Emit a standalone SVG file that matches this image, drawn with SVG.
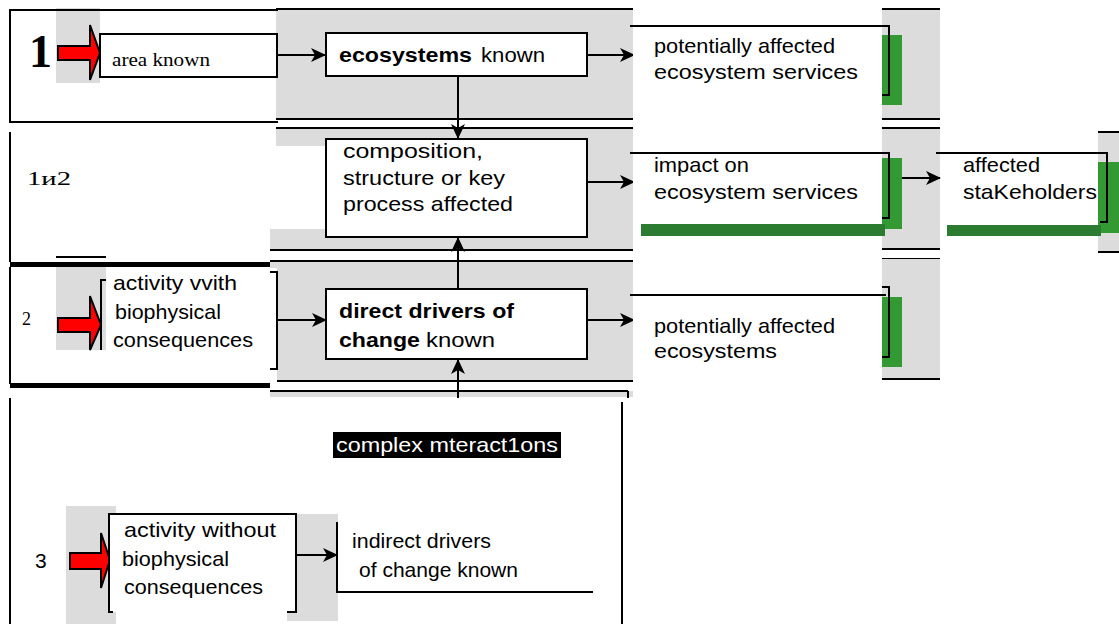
<svg xmlns="http://www.w3.org/2000/svg" width="1119" height="624" viewBox="0 0 1119 624">
<style>
.g{fill:#dcdcdc}
.ln{stroke:#000;stroke-width:2;fill:none}
.tk{stroke:#000;stroke-width:5;fill:none}
.wb{fill:#fff;stroke:#000;stroke-width:2}
.gv{fill:#339933}
.gh{fill:#2b7b30}
.t{font-family:"Liberation Sans",Arial,sans-serif;font-size:21px;fill:#000}
.b{font-weight:bold}
.s{font-family:"Liberation Serif","Times New Roman",serif;fill:#000}
.red{fill:#ff0000;stroke:#000;stroke-width:2;stroke-linejoin:miter}
</style>
<defs>
<marker id="ah" markerUnits="userSpaceOnUse" markerWidth="16" markerHeight="14" refX="14" refY="7" orient="auto">
<path d="M0,0 L15,7 L0,14 L4,7 z" fill="#000"/>
</marker>
</defs>
<rect width="1119" height="624" fill="#fff"/>

<!-- background bands -->
<g id="bands">
<rect class="g" x="276" y="9" width="357" height="110"/>
<rect class="g" x="882" y="9" width="58" height="110"/>
<line class="ln" x1="276" y1="9" x2="633" y2="9"/>
<line class="ln" x1="882" y1="9" x2="940" y2="9"/>
<line class="ln" x1="276" y1="119" x2="633" y2="119"/>
<line class="ln" x1="882" y1="119" x2="940" y2="119"/>
<line class="ln" x1="276" y1="128" x2="633" y2="128"/>
<line class="ln" x1="882" y1="128" x2="940" y2="128"/>

<rect class="g" x="276" y="129" width="357" height="121"/>
<rect x="270" y="146" width="56" height="83" fill="#fff"/>
<rect class="g" x="270" y="229" width="10" height="21"/>
<rect class="g" x="882" y="129" width="58" height="120"/>
<line class="ln" x1="270" y1="250" x2="633" y2="250"/>
<line class="ln" x1="882" y1="249" x2="940" y2="249"/>
<line class="ln" x1="882" y1="259" x2="940" y2="259"/>

<rect class="g" x="1098" y="132" width="21" height="120"/>
<line class="ln" x1="1098" y1="132" x2="1119" y2="132"/>
<line class="ln" x1="1098" y1="252" x2="1119" y2="252"/>

<rect class="g" x="270" y="261" width="363" height="121"/>
<line class="ln" x1="270" y1="261" x2="633" y2="261"/>
<line class="ln" x1="270" y1="381" x2="633" y2="381"/>
<rect class="g" x="882" y="259" width="58" height="120"/>
<line class="ln" x1="882" y1="379" x2="940" y2="379"/>

<rect class="g" x="270" y="391" width="363" height="6"/>
<line class="ln" x1="270" y1="391" x2="628" y2="391"/>
<line class="ln" x1="628" y1="391" x2="628" y2="398"/>
<line class="ln" x1="622" y1="402" x2="622" y2="624"/>

<rect class="g" x="56" y="8" width="44" height="75"/>
<rect class="g" x="56" y="267" width="50" height="83"/>
<rect class="g" x="66" y="506" width="50" height="118"/>
<rect class="g" x="287" y="514" width="51" height="107"/>
</g>

<!-- row frames -->
<g id="frames">
<path class="ln" d="M278,10 H10 V122 H278"/>
<line class="ln" x1="10" y1="132" x2="10" y2="262"/>
<line class="ln" x1="56" y1="257" x2="106" y2="257"/>
<line class="tk" x1="10" y1="264.5" x2="270" y2="264.5"/>
<line class="ln" x1="10" y1="267" x2="10" y2="384"/>
<line class="tk" x1="10" y1="385.5" x2="270" y2="385.5"/>
<line class="ln" x1="10" y1="398" x2="10" y2="624"/>
</g>

<!-- connectors -->
<g id="connectors">
<line class="ln" x1="277" y1="55" x2="325" y2="55" marker-end="url(#ah)"/>
<line class="ln" x1="587" y1="55" x2="634" y2="55" marker-end="url(#ah)"/>
<line class="ln" x1="458" y1="76" x2="458" y2="138" marker-end="url(#ah)"/>
<line class="ln" x1="587" y1="182" x2="634" y2="182" marker-end="url(#ah)"/>
<line class="ln" x1="902" y1="178" x2="940" y2="178" marker-end="url(#ah)"/>
<line class="ln" x1="458" y1="289" x2="458" y2="238" marker-end="url(#ah)"/>
<line class="ln" x1="277" y1="320" x2="326" y2="320" marker-end="url(#ah)"/>
<line class="ln" x1="587" y1="320" x2="634" y2="320" marker-end="url(#ah)"/>
<line class="ln" x1="458" y1="398" x2="458" y2="360" marker-end="url(#ah)"/>
<line class="ln" x1="296" y1="555" x2="337" y2="555" marker-end="url(#ah)"/>
</g>

<!-- row 1 -->
<g id="label1"><text class="s" x="29" y="67" font-size="46" font-weight="bold">1</text></g>
<g id="arrow1"><polygon class="red" points="58,46 90,46 90,25 100,53 90,80 90,60 58,60"/></g>
<g id="area-known">
<rect class="wb" x="100" y="34" width="177" height="43"/>
<text class="s" x="112" y="66" font-size="19" textLength="98" lengthAdjust="spacingAndGlyphs">area known</text>
</g>
<g id="ecosystems-known">
<rect class="wb" x="326" y="33" width="261" height="43"/>
<text class="t b" x="339" y="62" textLength="133" lengthAdjust="spacingAndGlyphs">ecosystems</text>
<text class="t" x="481" y="62" textLength="64" lengthAdjust="spacingAndGlyphs">known</text>
</g>
<g id="pot-ess">
<rect x="633" y="0" width="249" height="624" fill="#fff"/>
<rect class="gv" x="882" y="35" width="20" height="70"/>
<path class="ln" d="M630,26 H889 V95 H882"/>
<text class="t" x="654" y="53" textLength="181" lengthAdjust="spacingAndGlyphs">potentially affected</text>
<text class="t" x="654" y="79" textLength="204" lengthAdjust="spacingAndGlyphs">ecosystem services</text>
</g>

<!-- row 1 and 2 -->
<g id="label12"><text class="s" x="27" y="185" font-size="18" textLength="44" lengthAdjust="spacingAndGlyphs">1и2</text></g>
<g id="composition">
<rect class="wb" x="326" y="139" width="261" height="98"/>
<text class="t" x="343" y="158" textLength="140" lengthAdjust="spacingAndGlyphs">composition,</text>
<text class="t" x="343" y="185" textLength="162" lengthAdjust="spacingAndGlyphs">structure or key</text>
<text class="t" x="343" y="211" textLength="170" lengthAdjust="spacingAndGlyphs">process affected</text>
</g>
<g id="impact">
<rect class="gv" x="882" y="158" width="20" height="71"/>
<rect class="gh" x="641" y="224" width="244" height="12"/>
<path class="ln" d="M630,153 H889 V218 H882"/>
<text class="t" x="654" y="172" textLength="95" lengthAdjust="spacingAndGlyphs">impact on</text>
<text class="t" x="654" y="199" textLength="204" lengthAdjust="spacingAndGlyphs">ecosystem services</text>
</g>
<g id="stakeholders">
<rect class="gv" x="1098" y="162" width="21" height="71"/>
<rect class="gh" x="947" y="225" width="154" height="11"/>
<path class="ln" d="M936,153 H1107 V222 H1100"/>
<text class="t" x="963" y="172" textLength="77" lengthAdjust="spacingAndGlyphs">affected</text>
<text class="t" x="963" y="199" textLength="134" lengthAdjust="spacingAndGlyphs">staKeholders</text>
</g>

<!-- row 2 -->
<g id="label2"><text class="s" x="22" y="325" font-size="18">2</text></g>
<g id="arrow2"><polygon class="red" points="58,318 90,318 90,296 101,325 90,350 90,332 58,332"/></g>
<g id="activity-with">
<rect x="106" y="268" width="171" height="114" fill="#fff"/>
<path class="ln" d="M106,280 H101 V350"/>
<path class="ln" d="M270,272 H277 V369 H270"/>
<text class="t" x="113" y="290" textLength="124" lengthAdjust="spacingAndGlyphs">activity vvith</text>
<text class="t" x="115" y="319" textLength="106" lengthAdjust="spacingAndGlyphs">biophysical</text>
<text class="t" x="113" y="347" textLength="140" lengthAdjust="spacingAndGlyphs">consequences</text>
</g>
<g id="direct-drivers">
<rect class="wb" x="326" y="289" width="261" height="70"/>
<text class="t b" x="339" y="318" textLength="175" lengthAdjust="spacingAndGlyphs">direct drivers of</text>
<text class="t b" x="339" y="347" textLength="81" lengthAdjust="spacingAndGlyphs">change</text>
<text class="t" x="426" y="347" textLength="69" lengthAdjust="spacingAndGlyphs">known</text>
</g>
<g id="pot-eco">
<rect class="gv" x="882" y="297" width="20" height="70"/>
<line class="ln" x1="630" y1="295" x2="886" y2="295"/>
<path class="ln" d="M882,287 H889 V357 H882"/>
<text class="t" x="654" y="333" textLength="181" lengthAdjust="spacingAndGlyphs">potentially affected</text>
<text class="t" x="654" y="358" textLength="123" lengthAdjust="spacingAndGlyphs">ecosystems</text>
</g>

<!-- row 3 -->
<g id="complex">
<rect x="333" y="432" width="228" height="26" fill="#000"/>
<text class="t" x="336" y="452" style="fill:#fff" textLength="222" lengthAdjust="spacingAndGlyphs">complex  mteract1ons</text>
</g>
<g id="label3"><text class="t" x="35" y="568">3</text></g>
<g id="arrow3"><polygon class="red" points="70,553 101,553 101,533 110,560 101,588 101,569 70,569"/></g>
<g id="activity-without">
<rect x="110" y="515" width="186" height="97" fill="#fff"/>
<path class="ln" d="M113,612 H109 V514 H296 V612 H287"/>
<text class="t" x="124" y="537" textLength="152" lengthAdjust="spacingAndGlyphs">activity  without</text>
<text class="t" x="122" y="566" textLength="107" lengthAdjust="spacingAndGlyphs">biophysical</text>
<text class="t" x="124" y="594" textLength="139" lengthAdjust="spacingAndGlyphs">consequences</text>
</g>
<g id="indirect-drivers">
<path class="ln" d="M337,522 V592 H593"/>
<text class="t" x="352" y="548" textLength="139" lengthAdjust="spacingAndGlyphs">indirect drivers</text>
<text class="t" x="359" y="577" textLength="159" lengthAdjust="spacingAndGlyphs">of change known</text>
</g>
</svg>
